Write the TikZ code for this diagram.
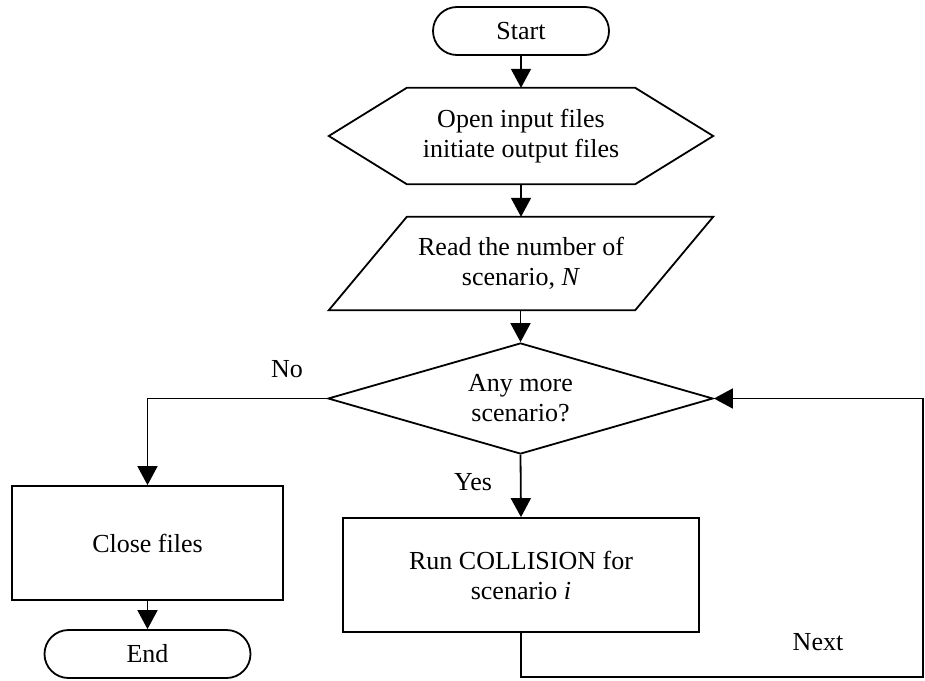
\documentclass[tikz,border=0pt]{standalone}
\usepackage{fontspec}
\setmainfont{Liberation Serif}
\usetikzlibrary{arrows.meta,shapes.misc,shapes.geometric,calc}

\tikzset{
  flowline/.style={line width=1.8pt, draw=black},
  flowarrow/.style={flowline, -{Triangle[length=19pt,width=20pt]}},
  txt/.style={font=\fontsize{26}{30}\selectfont, align=center, inner sep=0pt},
  terminal/.style={txt, draw, line width=1.8pt, rounded rectangle, minimum height=48pt},
  procbox/.style={txt, draw, line width=1.8pt, rectangle},
  decision/.style={txt, draw, line width=1.8pt, diamond, aspect=3.47,
                   minimum width=385pt, minimum height=111pt},
  plainbox/.style={txt, rectangle},
  flowlabel/.style={font=\fontsize{26}{30}\selectfont, inner sep=0pt}
}

\begin{document}
\begin{tikzpicture}[x=1pt,y=-1pt]
  \fill[white] (0,0) rectangle (925,680);
  \useasboundingbox (0,0) rectangle (925,680);

  % terminals
  \node[terminal, minimum width=176pt] (start) at (521,31) {Start};
  \node[terminal, minimum width=206pt] (stop) at (147.5,654) {End};

  % preparation (hexagon)
  \node[plainbox, minimum width=384pt, minimum height=96pt] (prep) at (521,136)
    {Open input files\\initiate output files};
  \draw[flowline]
    ($(prep.north west)+(78,0)$) -- ($(prep.north east)+(-78,0)$) -- (prep.east)
    -- ($(prep.south east)+(-78,0)$) -- ($(prep.south west)+(78,0)$) -- (prep.west) -- cycle;

  % input (parallelogram)
  \node[plainbox, minimum width=384pt, minimum height=93pt] (input) at (521,263.5)
    {Read the number of\\scenario, \textit{N}};
  \draw[flowline]
    ($(input.north west)+(78,0)$) -- (input.north east)
    -- ($(input.south east)+(-78,0)$) -- (input.south west) -- cycle;

  % decision
  \node[decision] (more) at (520.5,398.5) {Any more\\scenario?};

  % processes
  \node[procbox, minimum width=271pt, minimum height=114pt] (close) at (147.5,543) {Close files};
  \node[procbox, minimum width=356pt, minimum height=114pt] (run) at (521,575)
    {Run COLLISION for\\scenario \textit{i}};

  % loop-back corners
  \coordinate (loopbl) at (521,677);
  \coordinate (loopbr) at (923,677);

  % connectors
  \draw[flowarrow] (start) -- (prep);
  \draw[flowarrow] (prep) -- (input);
  \draw[flowarrow] (input.south -| more.north) -- (more.north);
  \draw[flowarrow] (more.south) -- (run.north);
  \draw[flowarrow] (more.west) -| (close.north);
  \draw[flowarrow] (close) -- (stop);
  \draw[flowarrow] (run.south) -- (loopbl) -- (loopbr) |- (more.east);

  % branch labels
  \node[flowlabel] (lno) at (287,369) {No};
  \node[flowlabel] (lyes) at (473,482) {Yes};
  \node[flowlabel] (lnext) at (818,642) {Next};
\end{tikzpicture}
\end{document}
